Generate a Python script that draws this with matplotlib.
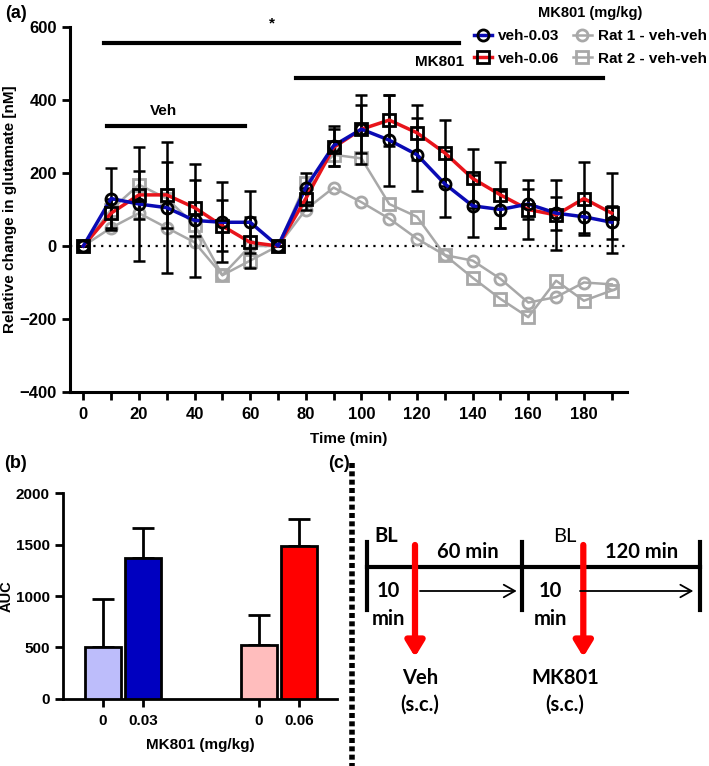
import numpy as np
import matplotlib
matplotlib.use("Agg")
import matplotlib.pyplot as plt
from matplotlib.lines import Line2D

plt.rcParams['font.family'] = ['Liberation Sans', 'DejaVu Sans']
plt.rcParams['font.weight'] = 'bold'

# ---------------- data: panel (a) ----------------
time = [0, 10, 20, 30, 40, 50, 60, 70, 80, 90, 100, 110, 120, 130, 140, 150, 160, 170, 180, 190]
veh_003 = [0, 130, 115, 105, 70, 65, 65, 0, 160, 275, 320, 290, 250, 170, 110, 100, 115, 90, 80, 65]
veh_003_err = [0, 85, 155, 180, 155, 110, 85, 0, 40, 55, 95, 125, 100, 90, 85, 50, 40, 45, 45, 45]
veh_006 = [0, 90, 140, 140, 105, 55, 10, 0, 130, 270, 320, 345, 310, 255, 185, 140, 100, 85, 130, 90]
veh_006_err = [0, 40, 65, 90, 77, 70, 70, 0, 30, 50, 65, 70, 75, 90, 80, 90, 80, 95, 100, 110]
rat1 = [0, 50, 90, 50, 10, -80, 0, 0, 100, 160, 120, 75, 20, -25, -40, -90, -155, -140, -100, -105]
rat2 = [0, 100, 168, 130, 58, -80, -40, 0, 172, 250, 240, 115, 80, -25, -87, -145, -195, -95, -150, -122]

# ---------------- data: panel (b) ----------------
auc_labels = ["0", "0.03", "0", "0.06"]
auc_values = [505, 1370, 520, 1490]
auc_err = [465, 295, 295, 260]
auc_colors = ["#bdbdfb", "#0000c0", "#ffbdbd", "#ff0000"]

W, H = 709, 766
fig = plt.figure(figsize=(W / 100, H / 100), dpi=100)


def px_axes(left, top, right, bottom):
    return fig.add_axes([left / W, 1 - bottom / H, (right - left) / W, (bottom - top) / H])


BLUE = "#0a0ab4"
RED = "#e8141b"
GRAY = "#a8a8a8"

# ---------------- panel (a) ----------------
ax = px_axes(70, 27, 627, 392)
ax.set_xlim(-4.8, 195.5)
ax.set_ylim(-400, 600)
ax.axhline(0, color='black', ls=(0, (1, 2.5)), lw=1.6, zorder=1)

ax.plot(time, rat1, color=GRAY, lw=1.8, marker='o', ms=8, mfc='none', mec=GRAY, mew=2, zorder=2)
ax.plot(time, rat2, color=GRAY, lw=1.8, marker='s', ms=8, mfc='none', mec=GRAY, mew=2, zorder=2)

ax.errorbar(time, veh_006, yerr=veh_006_err, fmt='none', ecolor='black', elinewidth=1.8, capsize=4.5, capthick=1.8, zorder=3)
ax.errorbar(time, veh_003, yerr=veh_003_err, fmt='none', ecolor='black', elinewidth=1.8, capsize=4.5, capthick=1.8, zorder=3)
ax.plot(time, veh_006, color=RED, lw=2.5, zorder=4)
ax.plot(time, veh_003, color=BLUE, lw=2.5, zorder=4)
ax.plot(time, veh_006, ls='none', marker='s', ms=8, mfc='none', mec='black', mew=2, zorder=5)
ax.plot(time, veh_003, ls='none', marker='o', ms=8, mfc='none', mec='black', mew=2, zorder=5)

# significance / treatment bars
ax.plot([7.4, 135], [557, 557], color='black', lw=3, clip_on=False)
ax.text(68, 590, "*", ha='center', va='bottom', fontsize=11, fontweight='bold')
ax.plot([8.6, 58], [329, 329], color='black', lw=3)
ax.text(29, 352, "Veh", ha='center', va='bottom', fontsize=11, fontweight='bold')
ax.plot([76.4, 187], [461, 461], color='black', lw=3)
ax.text(128, 484, "MK801", ha='center', va='bottom', fontsize=11, fontweight='bold')

for s in ['top', 'right']:
    ax.spines[s].set_visible(False)
for s in ['left', 'bottom']:
    ax.spines[s].set_linewidth(2.2)
ax.set_xticks(np.arange(0, 191, 10), minor=True)
ax.set_xticks(np.arange(0, 181, 20))
ax.set_yticks([-400, -200, 0, 200, 400, 600])
ax.set_yticklabels(['\u2212400', '\u2212200', '0', '200', '400', '600'])
ax.tick_params(which='both', direction='out', width=2, length=6, labelsize=12)
ax.tick_params(axis='x', pad=5)
for lab in ax.get_xticklabels() + ax.get_yticklabels():
    lab.set_fontweight('bold')
ax.set_xlabel("Time (min)", fontsize=11, fontweight='bold', labelpad=7)
ax.set_ylabel("Relative change in glutamate [nM]", fontsize=11, fontweight='bold', labelpad=2)

handles = [
    Line2D([], [], color=BLUE, lw=2.5, marker='o', ms=8, mfc='none', mec='black', mew=2),
    Line2D([], [], color=RED, lw=2.5, marker='s', ms=8, mfc='none', mec='black', mew=2),
    Line2D([], [], color=GRAY, lw=1.8, marker='o', ms=8, mfc='none', mec=GRAY, mew=2),
    Line2D([], [], color=GRAY, lw=1.8, marker='s', ms=8, mfc='none', mec=GRAY, mew=2),
]
labels = ["veh-0.03", "veh-0.06", "Rat 1 - veh-veh", "Rat 2 - veh-veh"]
leg = fig.legend(handles, labels, ncol=2, title="MK801 (mg/kg)", frameon=False,
                 loc='upper left', bbox_to_anchor=(463 / W, 1 - (-5) / H),
                 handlelength=1.2, handletextpad=0.4, columnspacing=0.9,
                 labelspacing=0.55, borderaxespad=0.3,
                 prop={'size': 11, 'weight': 'bold'},
                 title_fontproperties={'size': 10.5, 'weight': 'bold'})
leg._legend_box.align = 'center'
leg._legend_box.sep = 7

# ---------------- panel (b) ----------------
bx = px_axes(62.7, 493.3, 337, 698.7)
pos = [0, 1, 3.9, 4.9]
bx.bar(pos, auc_values, width=0.9, color=auc_colors, edgecolor='black', linewidth=2, zorder=3)
bx.errorbar(pos, auc_values, yerr=[[0] * 4, auc_err], fmt='none', ecolor='black',
            elinewidth=2, capsize=8, capthick=2, zorder=2)
bx.set_xlim(-1.0, 5.85)
bx.set_ylim(0, 2000)
bx.set_xticks(pos)
bx.set_xticklabels(auc_labels)
bx.set_yticks([0, 500, 1000, 1500, 2000])
for s in ['top', 'right']:
    bx.spines[s].set_visible(False)
for s in ['left', 'bottom']:
    bx.spines[s].set_linewidth(2)
bx.tick_params(direction='out', width=2, length=6, labelsize=11)
bx.tick_params(axis='x', pad=5)
for lab in bx.get_xticklabels() + bx.get_yticklabels():
    lab.set_fontweight('bold')
bx.set_xlabel("MK801 (mg/kg)", fontsize=11, fontweight='bold', labelpad=7)
bx.set_ylabel("AUC", fontsize=10.5, fontweight='bold', labelpad=1)

# ---------------- panel (c): schematic ----------------
cx = fig.add_axes([0, 0, 1, 1], facecolor='none')
cx.set_xlim(0, W)
cx.set_ylim(H, 0)
cx.axis('off')
cf = ['Lato', 'DejaVu Sans']

cx.plot([351.7, 351.7], [463, 768], color='black', lw=4, ls=(0, (0.9, 0.6)))
cx.plot([366.7, 700], [566.7, 566.7], color='black', lw=3)
for xx in [366.7, 522.3, 700]:
    cx.plot([xx, xx], [541.7, 610], color='black', lw=3)
for xx in [415, 583.3]:
    cx.annotate("", xy=(xx, 657), xytext=(xx, 545),
                arrowprops=dict(arrowstyle='-|>,head_length=0.9,head_width=0.55',
                                color='#ff0000', lw=4.5, shrinkA=0, shrinkB=0))
for x0, x1 in [(420, 516.7), (580, 693.3)]:
    cx.annotate("", xy=(x1, 591), xytext=(x0, 591),
                arrowprops=dict(arrowstyle='->,head_length=0.8,head_width=0.45',
                                color='black', lw=1.3, shrinkA=0, shrinkB=0))

tk = dict(family=cf, fontsize=14.5, ha='center', va='center', fontweight='bold')
cx.text(386.7, 536, "BL", **tk)
cx.text(468, 552, "60 min", **tk)
cx.text(388, 591, "10", **tk)
cx.text(388, 619, "min", **tk)
cx.text(420, 678, "Veh", **tk)
cx.text(420, 705, "(s.c.)", **tk)
cx.text(565, 536, "BL", family=cf, fontsize=14.5, ha='center', va='center', fontweight='normal')
cx.text(641.7, 552, "120 min", **tk)
cx.text(550, 591, "10", **tk)
cx.text(550, 619, "min", **tk)
cx.text(565, 678, "MK801", **tk)
cx.text(565, 705, "(s.c.)", **tk)

# panel labels
lk = dict(fontsize=13, fontweight='bold', ha='left', va='center')
cx.text(5, 13, "(a)", **lk)
cx.text(4, 463, "(b)", **lk)
cx.text(328, 463, "(c)", **lk)

fig.savefig("out.png", dpi=100)
